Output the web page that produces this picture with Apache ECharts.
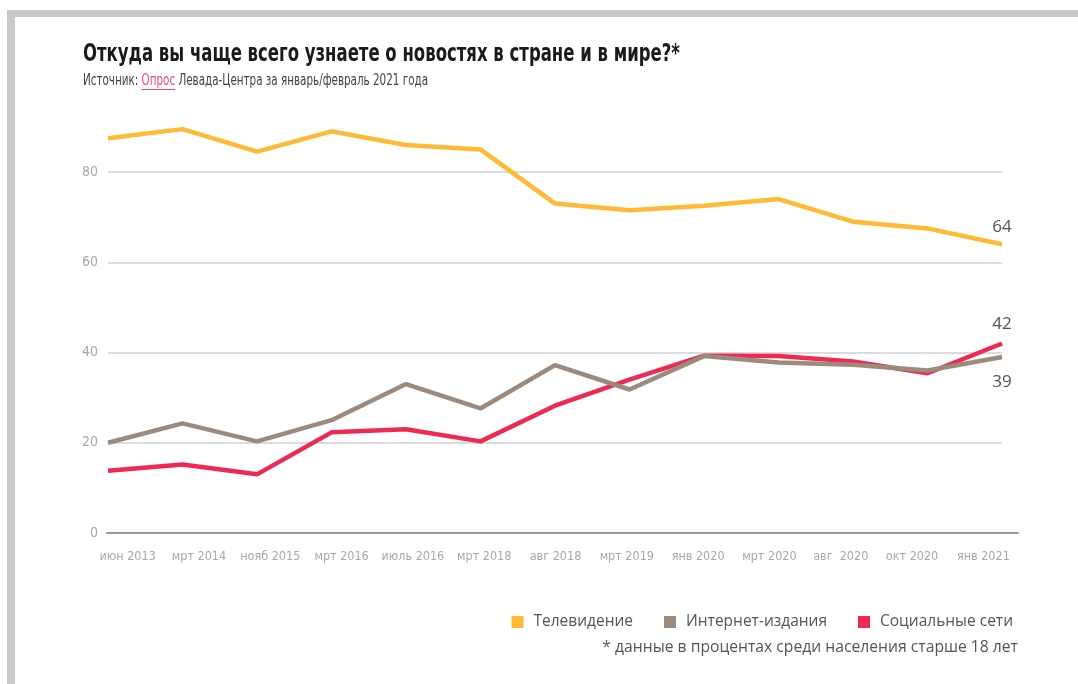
<!DOCTYPE html>
<html><head><meta charset="utf-8">
<script src="https://cdn.jsdelivr.net/npm/echarts@6/dist/echarts.min.js"></script>
<style>html,body{margin:0;padding:0;background:#fff}#c{width:1078px;height:684px}</style>
</head><body><div id="c"></div>
<script>
const categories = ['июн 2013','мрт 2014','нояб 2015','мрт 2016','июль 2016','мрт 2018','авг 2018','мрт 2019','янв 2020','мрт 2020','авг  2020','окт 2020','янв 2021'];
const tv = [87.5, 89.5, 84.5, 89, 86, 85, 73, 71.5, 72.5, 74, 69, 67.5, 64];
const internet = [20, 24.3, 20.3, 25, 33, 27.6, 37.2, 31.8, 39.2, 37.8, 37.3, 36, 39];
const social = [13.8, 15.2, 13, 22.3, 23, 20.3, 28.2, 34, 39.3, 39.2, 38, 35.4, 42];
const seriesNames = ['Телевидение', 'Интернет-издания', 'Социальные сети'];
const colors = ['#FFB935', '#9B8B7D', '#EE2A52'];
const yTicks = [0, 20, 40, 60, 80, 100];
const titleText = 'Откуда вы чаще всего узнаете о новостях в стране и в мире?*';
const subPre = 'Источник: ';
const subLink = 'Опрос';
const subPost = ' Левада-Центра за январь/февраль 2021 года';
const footnote = '* данные в процентах среди населения старше 18 лет';

const narrowName = '"Liberation Sans Narrow", "DejaVu Sans Condensed", sans-serif';
const body = '"Open Sans", "Noto Sans", sans-serif';
const titleFont = 'bold 24px ' + narrowName;
const subFont = '15px ' + narrowName;

const ctx = document.createElement('canvas').getContext('2d');
function measure(t, f) { ctx.font = f; return ctx.measureText(t).width; }
const titleScale = 597 / measure(titleText, titleFont);
const subScale = 345 / measure(subPre + subLink + subPost, subFont);
const linkX = 83 + measure(subPre, subFont) * subScale;
const linkW = measure(subLink, subFont) * subScale;

const chart = echarts.init(document.getElementById('c'), null, {renderer: 'canvas'});

function lastLabel(arr, pos, dist) {
  return arr.map((v, i) => i === arr.length - 1 ? {value: v, symbol: 'circle', symbolSize: 0,
    label: {show: true, position: pos, distance: dist, formatter: p => Math.round(p.value), color: '#555', fontSize: 17, fontFamily: body}} : v);
}

const gridTop = 533 - (yTicks[yTicks.length - 1] - yTicks[0]) * 4.5125;
chart.setOption({
  animation: false,
  legend: {
    data: seriesNames, right: 60, top: 609, itemWidth: 12, itemHeight: 12, itemGap: 31,
    icon: 'rect', textStyle: {fontFamily: body, fontSize: 15.5, color: '#555', padding: [0, 0, 0, 5]}
  },
  graphic: [
    {type: 'rect', shape: {x: 7, y: 10, width: 1071, height: 7}, style: {fill: '#C8C9CA'}},
    {type: 'rect', shape: {x: 7, y: 10, width: 8, height: 674}, style: {fill: '#C8C9CA'}},
    {type: 'text', x: 83, y: 54.5, scaleX: titleScale, style: {text: titleText, font: titleFont, fill: '#1a1a1a', verticalAlign: 'middle'}},
    {type: 'text', x: 83, y: 81.5, scaleX: subScale, style: {text: subPre + '{a|' + subLink + '}' + subPost, font: subFont, fill: '#444', verticalAlign: 'middle',
      rich: {a: {font: subFont, fill: '#EE4A72'}}}},
    {type: 'rect', shape: {x: linkX, y: 89, width: linkW, height: 1}, style: {fill: '#EE4A72'}},
    {type: 'text', right: 60, top: 640, style: {text: footnote, font: '15.7px "Open Sans", "Noto Sans", sans-serif', fill: '#555'}}
  ],
  grid: [
    {left: 108, right: 76, top: gridTop, bottom: 684 - 533},
    {left: 92, right: 59, top: gridTop, bottom: 684 - 533},
    {left: 107, right: 60, top: gridTop, bottom: 684 - 533}
  ],
  xAxis: [
    {type: 'category', gridIndex: 0, data: categories, boundaryGap: false, axisLine: {show: false}, axisTick: {show: false}, axisLabel: {show: false}},
    {type: 'category', gridIndex: 1, data: categories, boundaryGap: true, axisLine: {show: false}, axisTick: {show: false},
      axisLabel: {margin: 17, color: '#A8A8A8', fontSize: 12.5, fontFamily: narrowName, interval: 0}},
    {type: 'category', gridIndex: 2, data: [''], axisLine: {show: true, lineStyle: {color: '#999', width: 2}}, axisTick: {show: false}, axisLabel: {show: false}}
  ],
  yAxis: [
    {type: 'value', gridIndex: 0, min: yTicks[0], max: yTicks[yTicks.length - 1], interval: 20,
      axisLine: {show: false}, axisTick: {show: false},
      axisLabel: {showMaxLabel: false, margin: 10, color: '#A8A8A8', fontSize: 14, fontFamily: narrowName},
      splitLine: {show: true, showMinLine: false, showMaxLine: false, lineStyle: {color: '#DCDCDC', width: 2}}},
    {type: 'value', gridIndex: 1, min: 0, max: 100, show: false, splitLine: {show: false}},
    {type: 'value', gridIndex: 2, min: 0, max: 100, show: false, splitLine: {show: false}}
  ],
  series: [
    {name: seriesNames[0], type: 'line', data: lastLabel(tv, 'top', 9), color: colors[0], symbol: 'none', lineStyle: {width: 4.5, color: colors[0]}, z: 3},
    {name: seriesNames[1], type: 'line', data: lastLabel(internet, 'bottom', 17), color: colors[1], symbol: 'none', lineStyle: {width: 4.5, color: colors[1]}, z: 3},
    {name: seriesNames[2], type: 'line', data: lastLabel(social, 'top', 11), color: colors[2], symbol: 'none', lineStyle: {width: 4.5, color: colors[2]}, z: 2}
  ]
});
</script></body></html>
